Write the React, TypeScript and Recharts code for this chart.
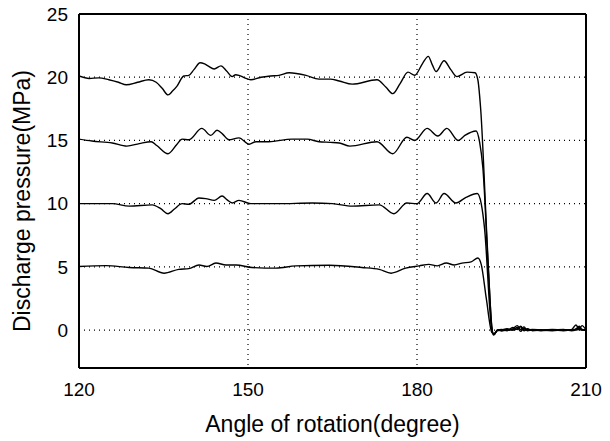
import React from "react";
import { LineChart, Line, XAxis, YAxis, CartesianGrid, ReferenceLine, Label } from "recharts";

const xTicks = [120, 150, 180, 210];
const yTicks = [0, 5, 10, 15, 20, 25];

const tailAngles = [194.3, 195, 196, 197, 197.8, 198.4, 199, 199.6, 200.5, 202, 204, 206, 207.5, 208.2, 208.8, 209.3, 210];

const a20 = [120, 121.8, 123.5, 125.3, 127, 128.4, 130.4, 132.4, 133.7, 134.8, 135.8, 136.6, 137.4, 138.6, 139.5, 140.4, 141.5, 142.3, 142.9, 144, 145.2, 146.2, 147.2, 147.8, 148.4, 149.4, 150.5, 152.3, 154, 155.5, 157.3, 160.3, 162.6, 164.6, 166.2, 168.5, 172.9, 174.5, 175.7, 177, 178.4, 179.6, 181, 182, 182.7, 183.4, 184.8, 186, 187.1, 188.9, 190.3, 190.8, 191.3, 192.5, 193.3, 193.6];
const v20 = [20.1, 19.9, 19.95, 19.8, 19.6, 19.4, 19.6, 19.8, 19.6, 19.1, 18.6, 18.9, 19.3, 20.1, 20.15, 20.6, 21.15, 21.05, 20.9, 20.65, 20.9, 20.5, 20.05, 20.2, 20.15, 19.95, 19.8, 20.0, 20.1, 20.15, 20.35, 20.15, 19.85, 19.85, 19.7, 19.45, 19.8, 19.2, 18.7, 19.5, 20.4, 20.15, 21.1, 21.65, 21.0, 20.45, 21.3, 20.6, 20.05, 20.4, 20.35, 19.8, 17.5, 6.5, 0.2, -0.4];
const t20 = [0.0, -0.05, 0.0, 0.1, 0.35, 0.05, 0.25, -0.05, 0.0, -0.05, 0.0, -0.05, 0.05, 0.4, 0.1, 0.35, 0.0];

const a15 = [120, 122.3, 125.9, 128.5, 130.7, 132.8, 133.8, 135.8, 137.4, 138.3, 139.5, 141.8, 143.4, 144.5, 145.5, 146.6, 148.4, 150.2, 151.4, 153.7, 157.8, 160.5, 162.6, 164.6, 166.2, 168.1, 172.9, 175.7, 178.2, 179.6, 181.8, 183.7, 185.3, 187.3, 188.5, 190.5, 191.1, 191.7, 192.7, 193.4, 193.7];
const v15 = [15.1, 14.95, 14.8, 14.55, 14.75, 14.9, 14.6, 13.95, 14.7, 15.1, 15.05, 15.95, 15.4, 15.8, 15.5, 15.05, 15.2, 14.7, 14.9, 14.9, 15.1, 15.1, 14.9, 14.85, 14.8, 14.55, 14.9, 13.95, 15.25, 15.0, 15.95, 15.35, 15.95, 15.0, 15.4, 15.75, 14.9, 12.8, 4.5, -0.2, -0.35];
const t15 = [0.0, 0.05, -0.05, 0.2, 0.05, 0.3, 0.0, 0.1, -0.05, 0.0, 0.05, 0.0, 0.0, 0.1, 0.3, 0.05, 0.0];

const a10 = [120, 125.9, 128.9, 133, 134.5, 135.8, 137, 138.3, 139.5, 141.3, 142.5, 144, 145.4, 146.3, 147.2, 148.4, 150.5, 155.5, 161.4, 165, 168.5, 173.3, 175.9, 178.2, 180, 181.8, 183.4, 184.8, 186.9, 188.7, 190.7, 191.4, 192, 193.2, 193.6];
const v10 = [10.0, 10.0, 9.8, 9.9, 9.6, 9.2, 9.6, 10.0, 9.95, 10.45, 10.4, 10.26, 10.6, 10.3, 10.05, 10.26, 10.0, 10.0, 10.05, 10.0, 9.8, 9.9, 9.2, 10.05, 10.0, 10.8, 10.05, 10.8, 10.05, 10.5, 10.8, 10.0, 8.0, 0.3, -0.3];
const t10 = [-0.05, 0.0, 0.1, 0.0, 0.2, -0.1, 0.15, 0.0, 0.05, 0.0, -0.05, 0.0, 0.0, 0.05, 0.2, 0.0, 0.0];

const a5 = [120, 124.8, 128.9, 132.4, 135.1, 137.7, 139.5, 141.3, 142.7, 144.3, 146.1, 147.9, 150.7, 155, 158.5, 164.4, 170.2, 173.3, 175.4, 178, 180.4, 182.1, 183.6, 185.2, 186.6, 188, 189.6, 190.8, 191.4, 192.3, 193.3, 193.7];
const v5 = [5.03, 5.1, 4.95, 4.9, 4.5, 4.8, 4.86, 5.15, 5.03, 5.3, 5.15, 5.15, 4.95, 4.9, 5.08, 5.13, 4.95, 4.8, 4.5, 4.9, 5.08, 5.2, 5.08, 5.3, 5.15, 5.3, 5.4, 5.7, 5.2, 2.5, -0.2, -0.3];
const t5 = [0.0, -0.05, 0.05, 0.0, 0.1, 0.25, -0.05, 0.05, 0.0, 0.0, 0.0, 0.05, -0.05, 0.0, 0.05, 0.0, 0.0];

function build(a: number[], v: number[], t: number[]) {
  const pts = a.map((x, i) => ({ x, y: v[i] }));
  tailAngles.forEach((x, i) => pts.push({ x, y: t[i] }));
  return pts;
}

const series = [build(a20, v20, t20), build(a15, v15, t15), build(a10, v10, t10), build(a5, v5, t5)];

const font = "'Liberation Sans', Arial, sans-serif";

const YTitle = (props: any) => {
  const vb = props.viewBox || { x: 0, y: 14, width: 79, height: 354 };
  const cx = vb.x + 22;
  const cy = vb.y + vb.height / 2 + 10;
  return (
    <text
      x={cx}
      y={cy}
      transform={`rotate(-90, ${cx}, ${cy})`}
      textAnchor="middle"
      dominantBaseline="central"
      fill="#000"
      fontSize={23}
      fontFamily={font}
    >
      Discharge pressure(MPa)
    </text>
  );
};

export default function App() {
  return (
    <div style={{ position: "absolute", left: 0, top: 0, width: 610, height: 441, background: "#fff" }}>
      <LineChart width={610} height={441} margin={{ top: 14, right: 24, left: 0, bottom: 0 }}>
        <CartesianGrid
          xAxisId="b"
          yAxisId="l"
          stroke="#000"
          strokeDasharray="1 4"
          strokeWidth={1.2}
          verticalValues={[150, 180]}
          horizontalValues={[0, 5, 10, 15, 20]}
        />
        <XAxis
          xAxisId="b"
          dataKey="x"
          type="number"
          domain={[120, 210]}
          ticks={xTicks}
          allowDataOverflow
          height={73}
          tickLine={false}
          tickSize={0}
          tickMargin={15}
          axisLine={{ stroke: "#000", strokeWidth: 2 }}
          tick={{ fill: "#000", fontSize: 19, fontFamily: font }}
          label={{ value: "Angle of rotation(degree)", position: "insideBottom", offset: 9, fill: "#000", fontSize: 23, fontFamily: font }}
        />
        <YAxis
          yAxisId="l"
          type="number"
          domain={[-3, 25]}
          ticks={yTicks}
          allowDataOverflow
          width={79}
          tickLine={false}
          tickSize={0}
          tickMargin={11}
          axisLine={{ stroke: "#000", strokeWidth: 2 }}
          tick={{ fill: "#000", fontSize: 19, fontFamily: font }}
        >
          <Label content={<YTitle />} />
        </YAxis>
        <ReferenceLine xAxisId="b" yAxisId="l" y={25} stroke="#000" strokeWidth={2} />
        <ReferenceLine xAxisId="b" yAxisId="l" x={210} stroke="#000" strokeWidth={2} />
        {series.map((d, i) => (
          <Line
            key={i}
            data={d}
            xAxisId="b"
            yAxisId="l"
            dataKey="y"
            type="monotone"
            stroke="#000"
            strokeWidth={1.4}
            dot={false}
            isAnimationActive={false}
          />
        ))}
      </LineChart>
    </div>
  );
}
